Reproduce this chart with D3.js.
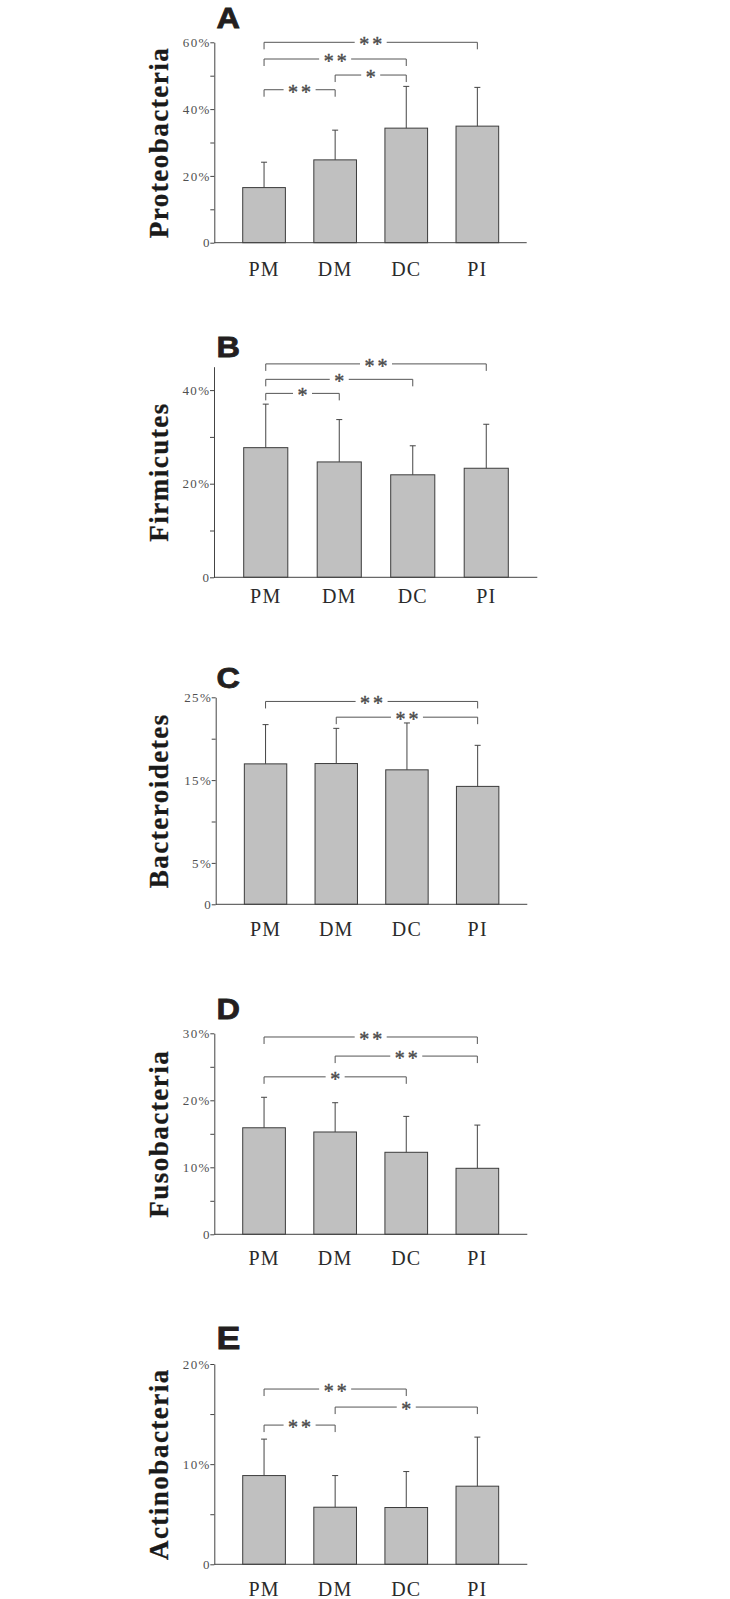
<!DOCTYPE html>
<html>
<head>
<meta charset="utf-8">
<script src="https://cdn.jsdelivr.net/npm/d3@7/dist/d3.min.js"></script>
<style>
  html, body { margin: 0; padding: 0; background: #fff; }
  svg { display: block; }
</style>
</head>
<body>
<svg id="chart" width="730" height="1599"></svg>
<script>
// ---------------- DATA ----------------
const categories = ["PM", "DM", "DC", "PI"];

const panelLetters = ["A", "B", "C", "D", "E"];
const phylumNames = ["Proteobacteria", "Firmicutes", "Bacteroidetes", "Fusobacteria", "Actinobacteria"];

// mean relative abundance (%)
const proteobacteriaMean = [16.5, 24.8, 34.3, 34.9];
const firmicutesMean     = [27.7, 24.65, 21.9, 23.3];
const bacteroidetesMean  = [16.96, 17.0, 16.24, 14.24];
const fusobacteriaMean   = [15.9, 15.27, 12.24, 9.85];
const actinobacteriaMean = [8.86, 5.7, 5.67, 7.8];

// standard deviation (%), drawn upward only
const proteobacteriaSD = [7.6, 8.9, 12.5, 11.6];
const firmicutesSD     = [9.3, 9.05, 6.2, 9.4];
const bacteroidetesSD  = [4.74, 4.25, 5.66, 4.96];
const fusobacteriaSD   = [4.55, 4.37, 5.36, 6.45];
const actinobacteriaSD = [3.64, 3.16, 3.59, 4.9];

// y axis domain max (%)
const yMax = [60, 45, 25, 30, 20];

// tick values and labelled ticks
const proteobacteriaTicks = [0, 10, 20, 30, 40, 50, 60];
const firmicutesTicks     = [0, 10, 20, 30, 40];
const bacteroidetesTicks  = [0, 5, 10, 15, 20, 25];
const fusobacteriaTicks   = [0, 5, 10, 15, 20, 25, 30];
const actinobacteriaTicks = [0, 5, 10, 15, 20];

const proteobacteriaTickLabels = {0: "0", 20: "20%", 40: "40%", 60: "60%"};
const firmicutesTickLabels     = {0: "0", 20: "20%", 40: "40%"};
const bacteroidetesTickLabels  = {0: "0", 5: "5%", 15: "15%", 25: "25%"};
const fusobacteriaTickLabels   = {0: "0", 10: "10%", 20: "20%", 30: "30%"};
const actinobacteriaTickLabels = {0: "0", 10: "10%", 20: "20%"};

// significance brackets: [fromIndex, toIndex, level (%), label]
const proteobacteriaSig = [[0, 3, 60, "**"], [0, 2, 55, "**"], [1, 2, 50.2, "*"], [0, 1, 45.8, "**"]];
const firmicutesSig     = [[0, 3, 45.6, "**"], [0, 2, 42.3, "*"], [0, 1, 39.3, "*"]];
const bacteroidetesSig  = [[0, 3, 24.5, "**"], [1, 3, 22.6, "**"]];
const fusobacteriaSig   = [[0, 3, 29.45, "**"], [1, 3, 26.6, "**"], [0, 2, 23.5, "*"]];
const actinobacteriaSig = [[0, 2, 17.5, "**"], [1, 3, 15.7, "*"], [0, 1, 13.9, "**"]];

const means = [proteobacteriaMean, firmicutesMean, bacteroidetesMean, fusobacteriaMean, actinobacteriaMean];
const sds = [proteobacteriaSD, firmicutesSD, bacteroidetesSD, fusobacteriaSD, actinobacteriaSD];
const ticks = [proteobacteriaTicks, firmicutesTicks, bacteroidetesTicks, fusobacteriaTicks, actinobacteriaTicks];
const tickLabels = [proteobacteriaTickLabels, firmicutesTickLabels, bacteroidetesTickLabels, fusobacteriaTickLabels, actinobacteriaTickLabels];
const sigs = [proteobacteriaSig, firmicutesSig, bacteroidetesSig, fusobacteriaSig, actinobacteriaSig];

// ---------------- LAYOUT ----------------
const layout = [
  {top: 42.3,  base: 242.7,  axisX: 214.3, axisRight: 526.7, band: [228.5, 512.9], labelDy: 33,   letterY: 27.5,   letterSize: 29},
  {top: 366.7, base: 577.3,  axisX: 214.0, axisRight: 537.3, band: [229.0, 523.0], labelDy: 26,   letterY: 356.7,  letterSize: 29},
  {top: 697.3, base: 904.3,  axisX: 215.7, axisRight: 527.3, band: [230.2, 513.0], labelDy: 31.7, letterY: 688,    letterSize: 29},
  {top: 1033.3,base: 1234.3, axisX: 214.3, axisRight: 527.3, band: [228.5, 512.9], labelDy: 31,   letterY: 1019.3, letterSize: 29},
  {top: 1364,  base: 1564.3, axisX: 214.3, axisRight: 527.3, band: [228.5, 512.9], labelDy: 31.7, letterY: 1349.3, letterSize: 32}
];

const AXIS_COLOR = "#444";
const TEXT_GRAY = "#505050";
const BAR_FILL = "#c0c0c0";
const SERIF = "'Liberation Serif', 'Times New Roman', serif";
const SANS = "'Liberation Sans', Arial, sans-serif";

const svg = d3.select("#chart");

layout.forEach((L, p) => {
  const g = svg.append("g");
  const y = d3.scaleLinear().domain([0, yMax[p]]).range([L.base, L.top]);
  const x = d3.scaleBand().domain(categories).range(L.band).paddingInner(0.4).paddingOuter(0.2);

  // panel letter
  g.append("text")
    .attr("transform", `translate(216.5,${L.letterY}) scale(1.12,1)`)
    .attr("font-family", SANS).attr("font-weight", "bold")
    .attr("font-size", L.letterSize).attr("fill", "#231f20")
    .attr("stroke", "#231f20").attr("stroke-width", 0.8)
    .text(panelLetters[p]);

  // y title
  const cy = (L.top + L.base) / 2;
  g.append("text")
    .attr("transform", `translate(168,${cy}) rotate(-90)`)
    .attr("text-anchor", "middle")
    .attr("font-family", SERIF).attr("font-weight", "bold")
    .attr("font-size", 27).attr("letter-spacing", "1.5px")
    .attr("fill", "#1a1a1a")
    .attr("stroke", "#1a1a1a").attr("stroke-width", 0.3)
    .text(phylumNames[p]);

  // bars
  g.selectAll("rect.bar").data(categories).enter().append("rect")
    .attr("x", d => x(d))
    .attr("y", (d, i) => y(means[p][i]))
    .attr("width", x.bandwidth())
    .attr("height", (d, i) => L.base - y(means[p][i]))
    .attr("fill", BAR_FILL)
    .attr("stroke", "#3c3c3c").attr("stroke-width", 1);

  // error bars (upper)
  categories.forEach((c, i) => {
    const cx = x(c) + x.bandwidth() / 2;
    g.append("line")
      .attr("x1", cx).attr("x2", cx)
      .attr("y1", y(means[p][i])).attr("y2", y(means[p][i] + sds[p][i]))
      .attr("stroke", "#444").attr("stroke-width", 1);
    g.append("line")
      .attr("x1", cx - 3).attr("x2", cx + 3)
      .attr("y1", y(means[p][i] + sds[p][i])).attr("y2", y(means[p][i] + sds[p][i]))
      .attr("stroke", "#444").attr("stroke-width", 1);
  });

  // y axis
  const yAxis = d3.axisLeft(y).tickValues(ticks[p]).tickSize(4).tickSizeOuter(0)
    .tickFormat(v => tickLabels[p][v] !== undefined ? tickLabels[p][v] : "");
  const ya = g.append("g").attr("transform", `translate(${L.axisX},0)`).call(yAxis);
  ya.select(".domain").attr("stroke", AXIS_COLOR);
  ya.selectAll(".tick line").attr("stroke", AXIS_COLOR);
  ya.selectAll(".tick text")
    .attr("x", -3.5)
    .attr("font-family", SERIF).attr("font-size", 13)
    .attr("letter-spacing", "1.4px")
    .attr("fill", TEXT_GRAY);

  // x axis baseline + category labels
  const xa = g.append("g").attr("transform", `translate(0,${L.base})`)
    .call(d3.axisBottom(x).tickSize(0).tickPadding(L.labelDy - 14));
  xa.select(".domain").remove();
  g.append("line")
    .attr("x1", L.axisX).attr("x2", L.axisRight)
    .attr("y1", L.base).attr("y2", L.base)
    .attr("stroke", AXIS_COLOR).attr("stroke-width", 1);
  xa.selectAll(".tick text")
    .attr("font-family", SERIF).attr("font-size", 20)
    .attr("letter-spacing", "1.2px")
    .attr("fill", "#2a2a2a");

  // significance brackets
  sigs[p].forEach(([a, b, lvl, lab]) => {
    const x1 = x(categories[a]) + x.bandwidth() / 2;
    const x2 = x(categories[b]) + x.bandwidth() / 2;
    const yy = y(lvl);
    const mid = (x1 + x2) / 2;
    const t = g.append("text")
      .attr("x", mid + 1.5).attr("y", yy + 9)
      .attr("text-anchor", "middle")
      .attr("font-family", SERIF).attr("font-size", 20)
      .attr("letter-spacing", "3px")
      .attr("fill", "#4a4a4a")
      .attr("stroke", "#4a4a4a").attr("stroke-width", 0.4)
      .text(lab);
    const w = t.node().getComputedTextLength();
    const gap = w / 2 + 3;
    g.append("path")
      .attr("d", `M${x1},${yy + 7}V${yy}H${mid - gap}M${mid + gap},${yy}H${x2}V${yy + 7}`)
      .attr("fill", "none").attr("stroke", "#555").attr("stroke-width", 1);
  });
});
</script>
</body>
</html>
